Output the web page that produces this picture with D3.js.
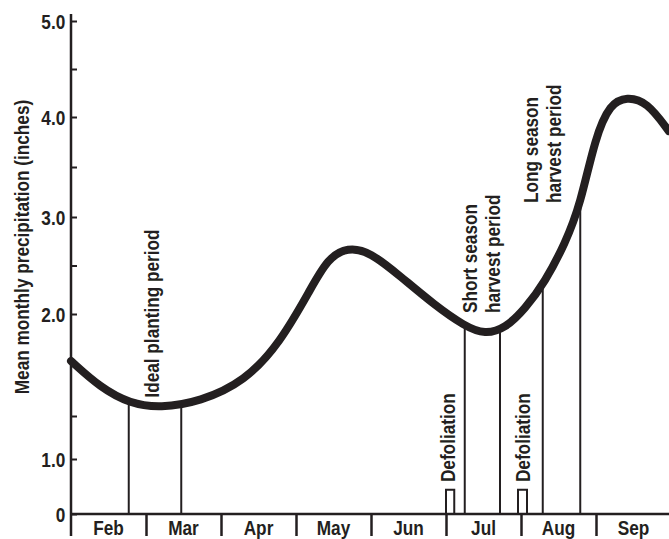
<!DOCTYPE html>
<html>
<head>
<meta charset="utf-8">
<script src="https://cdn.jsdelivr.net/npm/d3@7"></script>
<style>
  body { margin: 0; background: #fff; }
  svg text { font-family: "Liberation Sans", Arial, sans-serif; font-weight: bold; fill: #231f20; }
</style>
</head>
<body>
<div id="graph"></div>
<script>
// months along the bottom (curve x is in months from the start of Feb)
const months = ['Feb', 'Mar', 'Apr', 'May', 'Jun', 'Jul', 'Aug', 'Sep'];

// mean monthly precipitation curve
const curveMonth  = [0, 0.39, 0.79, 1.19, 1.72, 2.32, 2.79, 3.19, 3.42, 3.69, 3.99, 4.39, 4.85, 5.25, 5.52, 5.79, 6.05, 6.32, 6.59, 6.79, 6.99, 7.19, 7.41, 7.68, 7.97];
const curvePrecip = [1.77, 1.64, 1.56, 1.54, 1.57, 1.67, 1.86, 2.25, 2.57, 2.69, 2.64, 2.39, 2.09, 1.94, 1.90, 1.93, 2.05, 2.33, 2.73, 3.12, 3.80, 4.14, 4.21, 4.16, 3.86];

// y axis tick labels (the axis is hand drawn, not linear)
const yTicks = [0, 1, 2, 3, 4, 5];
const yMinorTicks = [1.5, 2.5, 3.5, 4.5];

// periods: vertical lines from the axis up to the curve
const periodStart = [0.77, 5.25, 6.29];
const periodEnd   = [1.47, 5.72, 6.79];

// defoliation markers
const defolStart = [5.00, 5.96];
const defolEnd   = [5.11, 6.08];
const defolTop   = 0.44;

// annotation labels
const labelLines = [['Ideal planting period'], ['Short season', 'harvest period'], ['Long season', 'harvest period'], ['Defoliation'], ['Defoliation']];
const labelMonth = [1.17, 5.41, 6.23, 5.12, 6.12];
const labelValue = [1.59, 2.01, 3.14, 0.58, 0.58];

const W = 669, H = 539;
const ink = '#231f20';
const fs = 21;            // font size
const narrow = 'scale(0.82,1)'; // condensed look

var svg = d3.select('#graph').append('svg')
    .attr('width', W)
    .attr('height', H);

var x = d3.scaleLinear().domain([0, 8]).range([71, 671]);
var y = d3.scaleLinear()
    .domain([0, 1, 1.5, 2, 3, 4, 5])
    .range([514, 459, 416, 314, 217, 117, 21]);

// ---- axes ----
var yAxis = svg.append('g')
    .attr('transform', 'translate(' + x(0) + ',0)')
    .call(d3.axisLeft(y).tickValues(yTicks).tickSize(-6).tickPadding(7)
        .tickFormat(d => d === 0 ? '0' : d3.format('.1f')(d)));
yAxis.select('.domain').remove();
yAxis.selectAll('line').attr('stroke', ink).attr('stroke-width', 2);
yAxis.selectAll('text').attr('font-size', fs).attr('dy', '0.36em').attr('transform', narrow);

var yMinor = svg.append('g')
    .attr('transform', 'translate(' + x(0) + ',0)')
    .call(d3.axisLeft(y).tickValues(yMinorTicks).tickSize(-6).tickFormat(''));
yMinor.select('.domain').remove();
yMinor.selectAll('line').attr('stroke', ink).attr('stroke-width', 2);

svg.append('line')
    .attr('x1', x(0)).attr('x2', x(0))
    .attr('y1', y(5) - 7).attr('y2', y(0) + 22)
    .attr('stroke', ink).attr('stroke-width', 2.5);

var xAxis = svg.append('g')
    .attr('transform', 'translate(0,' + y(0) + ')')
    .call(d3.axisBottom(x).tickValues(d3.range(1, 9)).tickSize(22).tickFormat(''));
xAxis.select('.domain').remove();
xAxis.selectAll('line').attr('stroke', ink).attr('stroke-width', 2.5);

svg.append('line')
    .attr('x1', x(0)).attr('x2', W)
    .attr('y1', y(0)).attr('y2', y(0))
    .attr('stroke', ink).attr('stroke-width', 2.5);

svg.append('g').selectAll('text')
    .data(months)
    .enter()
    .append('text')
    .attr('transform', (d, i) => 'translate(' + x(i + 0.5) + ',' + (y(0) + 21) + ') ' + narrow)
    .attr('text-anchor', 'middle')
    .attr('font-size', fs)
    .text(d => d);

// axis title
svg.append('text')
    .attr('transform', 'translate(29,247) rotate(-90) ' + narrow)
    .attr('text-anchor', 'middle')
    .attr('font-size', fs)
    .text('Mean monthly precipitation (inches)');

// ---- curve ----
var pts = curveMonth.map((m, i) => [m, curvePrecip[i]]);
var line = d3.line()
    .x(d => x(d[0]))
    .y(d => y(d[1]))
    .curve(d3.curveBasis);

var path = svg.append('path')
    .datum(pts)
    .attr('d', line)
    .attr('fill', 'none')
    .attr('stroke', ink)
    .attr('stroke-width', 8)
    .attr('stroke-linecap', 'round');

// find where the curve is at a given pixel x
var node = path.node();
var total = node.getTotalLength();
var samples = [];
for (var l = 0; l <= total; l += 0.5) samples.push(node.getPointAtLength(l));
function curveY(px) {
    var best = samples[0];
    samples.forEach(p => { if (Math.abs(p.x - px) < Math.abs(best.x - px)) best = p; });
    return best.y;
}

// ---- period lines ----
var periodX = periodStart.concat(periodEnd);
svg.append('g').selectAll('line')
    .data(periodX)
    .enter()
    .append('line')
    .attr('x1', d => x(d)).attr('x2', d => x(d))
    .attr('y1', y(0)).attr('y2', d => curveY(x(d)))
    .attr('stroke', ink)
    .attr('stroke-width', 2);

// ---- defoliation markers ----
svg.append('g').selectAll('path')
    .data(defolStart)
    .enter()
    .append('path')
    .attr('d', (d, i) => 'M' + x(d) + ',' + y(0) + 'V' + y(defolTop) + 'H' + x(defolEnd[i]) + 'V' + y(0))
    .attr('fill', 'none')
    .attr('stroke', ink)
    .attr('stroke-width', 2);

// ---- labels ----
labelLines.forEach(function(lines, i) {
    var g = svg.append('g')
        .attr('transform', 'translate(' + x(labelMonth[i]) + ',' + y(labelValue[i]) + ') rotate(-90)');
    lines.forEach(function(t, j) {
        g.append('text')
            .attr('transform', 'translate(0,' + (j * 23) + ') ' + narrow)
            .attr('font-size', fs)
            .text(t);
    });
});
</script>
</body>
</html>
